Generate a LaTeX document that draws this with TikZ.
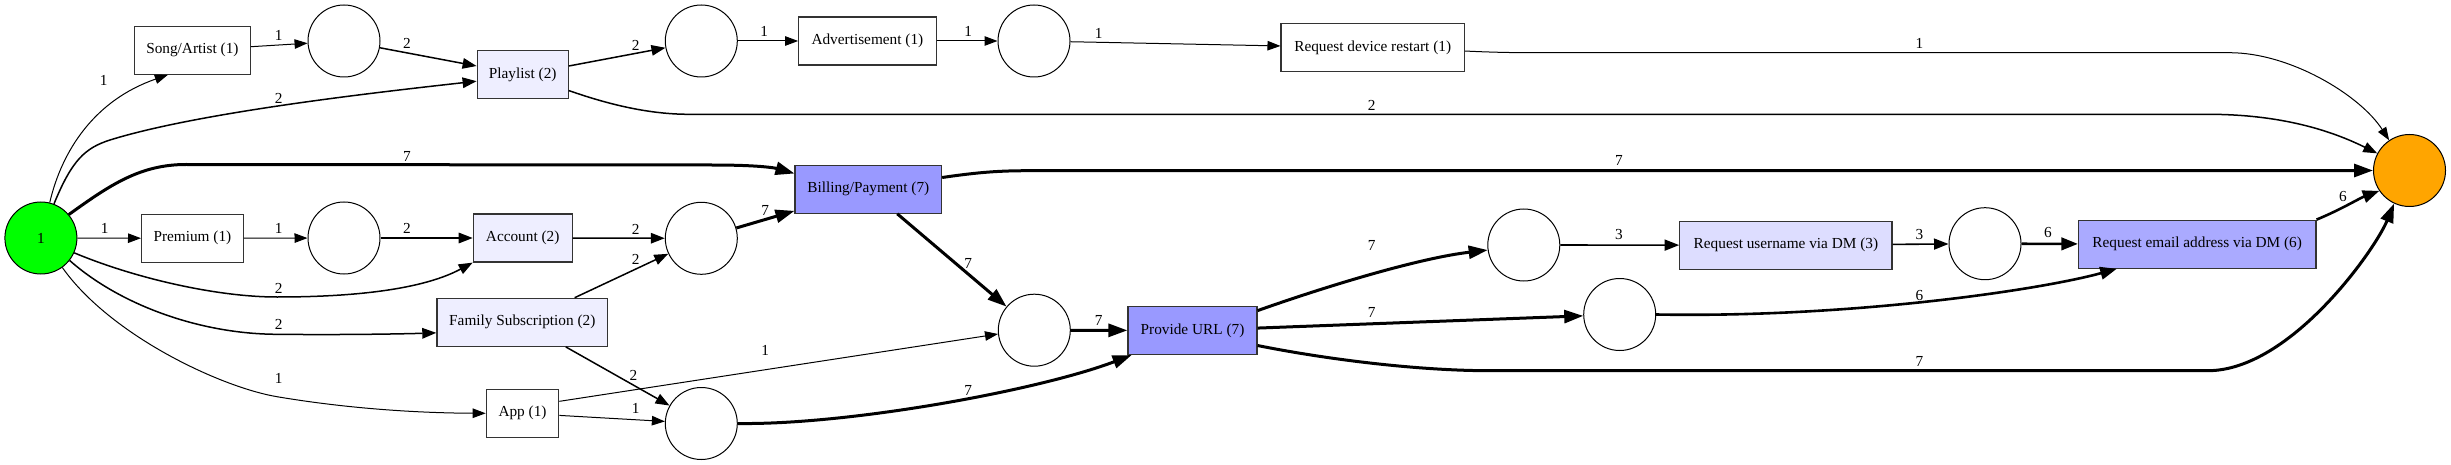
\documentclass[tikz,border=0pt]{standalone}
\usepackage{fontspec}
\setmainfont{Liberation Serif}
\usetikzlibrary{arrows.meta}
\definecolor{fA}{HTML}{EEEEFF}
\definecolor{fB}{HTML}{DDDDFF}
\definecolor{fC}{HTML}{AAAAFF}
\definecolor{fD}{HTML}{9999FF}
\definecolor{srcgreen}{HTML}{00FF00}
\definecolor{sinkorange}{HTML}{FFA500}
\definecolor{bord}{HTML}{333333}
\begin{document}
\begin{tikzpicture}[x=1pt,y=-1pt,
  every node/.style={font=\fontsize{15.3pt}{17pt}\selectfont},
  place/.style={circle,draw=black,line width=1pt,minimum size=72pt,inner sep=0pt},
  trans/.style={rectangle,draw=bord,line width=1.2pt,minimum height=48pt,inner sep=0pt},
  lbl/.style={inner sep=0pt},
  wA/.style={line width=1pt,-{Triangle[length=13pt,width=9.5pt]}},
  wB/.style={line width=1.5pt,-{Triangle[length=14pt,width=10.5pt]}},
  wC/.style={line width=1.6pt,-{Triangle[length=14.5pt,width=11pt]}},
  wF/.style={line width=2.6pt,-{Triangle[length=16.5pt,width=12.5pt]}},
  wG/.style={line width=3pt,-{Triangle[length=19pt,width=13pt]}},
]
\useasboundingbox (0,0) rectangle (2451,465);

% places
\node[place,fill=srcgreen] (src) at (40.9,238) {1};
\node[place] (p1) at (344,41) {};
\node[place] (p2) at (344,238) {};
\node[place] (p3) at (701.3,41) {};
\node[place] (p4) at (1034,41) {};
\node[place] (p5) at (701.3,238.3) {};
\node[place] (p6) at (1034.3,330.2) {};
\node[place] (p7) at (701.3,423.5) {};
\node[place] (p8) at (1523.8,245) {};
\node[place] (p9) at (1619.7,314.5) {};
\node[place] (p10) at (1985,243.7) {};
\node[place,fill=sinkorange] (sink) at (2409.5,170.5) {};

% transitions
\node[trans,fill=white,minimum width=116pt] (song) at (192.4,50.3) {Song/Artist (1)};
\node[trans,fill=white,minimum width=101.6pt] (premium) at (192.4,238.3) {Premium (1)};
\node[trans,fill=fA,minimum width=91pt] (playlist) at (522.7,74.7) {Playlist (2)};
\node[trans,fill=fA,minimum width=98.8pt] (account) at (522.7,238) {Account (2)};
\node[trans,fill=fA,minimum width=170.8pt] (family) at (522.3,322.3) {Family Subscription (2)};
\node[trans,fill=white,minimum width=72.4pt] (app) at (522.5,413.3) {App (1)};
\node[trans,fill=white,minimum width=137.4pt] (adv) at (867.4,41) {Advertisement (1)};
\node[trans,fill=fD,minimum width=146.5pt] (billing) at (868.3,189.2) {Billing/Payment (7)};
\node[trans,fill=fD,minimum width=129pt] (url) at (1192.5,330.5) {Provide URL (7)};
\node[trans,fill=white,minimum width=183.3pt] (restart) at (1372.7,47.8) {Request device restart (1)};
\node[trans,fill=fB,minimum width=212.3pt] (username) at (1785.9,245.2) {Request username via DM (3)};
\node[trans,fill=fC,minimum width=237.5pt] (email) at (2197.2,244.2) {Request email address via DM (6)};

% edges
\draw[wA] (src.76) .. controls (62,150) and (95,100) .. (song.225);
\draw[wA] (song) -- (p1);
\draw[wB] (p1) -- (playlist);
\draw[wB] (src.69) .. controls (72,160) and (85,148) .. (110,140) .. controls (200,112) and (380,92) .. (playlist.188);
\draw[wG] (src.40) .. controls (110,185) and (140,164.5) .. (186,164.5) -- (711.6,165) .. controls (760,165) and (775,168) .. (billing.168);
\draw[wA] (src) -- (premium);
\draw[wA] (premium) -- (p2);
\draw[wB] (p2) -- (account);
\draw[wB] (src.-24) .. controls (135,278.3) and (217,297) .. (277,297) .. controls (340,297) and (418,292) .. (account.south west);
\draw[wB] (src.-38) .. controls (120,305) and (200,334) .. (277,334.3) .. controls (340,335) and (400,334) .. (family.187);
\draw[wA] (src.-54) .. controls (110,335) and (220,387) .. (277,396.7) .. controls (350,409) and (420,413) .. (app.west);
\draw[wB] (account) -- (p5);
\draw[wB] (family) -- (p5);
\draw[wB] (family) -- (p7);
\draw[wA] (app.18) -- (p6.186);
\draw[wA] (app) -- (p7);
\draw[wB] (playlist) -- (p3);
\draw[wA] (p3) -- (adv);
\draw[wA] (adv) -- (p4);
\draw[wA] (p4) -- (restart);
\draw[wB] (playlist.-19) .. controls (610,105) and (650,114.3) .. (689,114.3) -- (2207.8,114.3) .. controls (2290,114.3) and (2340,135) .. (sink.152);
\draw[wA] (restart.-2) .. controls (1500,52.7) and (1520,52.7) .. (1541,52.7) -- (2229.6,52.7) .. controls (2290,52.7) and (2360,95) .. (sink.124);
\draw[wG] (billing.9) .. controls (980,172) and (1000,170.7) .. (1030,170.7) -- (sink.west);
\draw[wG] (p5) -- (billing);
\draw[wG] (billing) -- (p6);
\draw[wG] (p6) -- (url);
\draw[wG] (p7.east) .. controls (850,425) and (1040,390) .. (url.202);
\draw[wG] (url.17) .. controls (1330,285) and (1420,258) .. (p8.188);
\draw[wC] (p8) -- (username);
\draw[wG] (url) -- (p9);
\draw[wG] (url.-13) .. controls (1330,360) and (1420,370.7) .. (1489.6,370.7) -- (2207.8,370.7) .. controls (2290,370.7) and (2375,250) .. (sink.245);
\draw[wC] (username) -- (p10);
\draw[wF] (p10) -- (email);
\draw[wF] (p9.east) .. controls (1850,318) and (2040,290) .. (email.197);
\draw[wF] (email.north east) .. controls (2340,210) and (2360,198) .. (sink.214);

% edge labels
\node[lbl] (l01) at (103.6,80) {1};
\node[lbl] (l02) at (278.8,35) {1};
\node[lbl] (l03) at (407,43.3) {2};
\node[lbl] (l04) at (278.8,98.3) {2};
\node[lbl] (l05) at (407,156) {7};
\node[lbl] (l06) at (104.8,228.3) {1};
\node[lbl] (l07) at (278.8,228.3) {1};
\node[lbl] (l08) at (407,228.3) {2};
\node[lbl] (l09) at (278.8,288.3) {2};
\node[lbl] (l10) at (278.8,324) {2};
\node[lbl] (l11) at (278.8,378.3) {1};
\node[lbl] (l12) at (635.7,229.3) {2};
\node[lbl] (l13) at (635.7,259.3) {2};
\node[lbl] (l14) at (633.5,375) {2};
\node[lbl] (l15) at (765.2,350) {1};
\node[lbl] (l16) at (635.7,408.3) {1};
\node[lbl] (l17) at (635.7,45) {2};
\node[lbl] (l18) at (764.3,31.7) {1};
\node[lbl] (l19) at (968.3,31.7) {1};
\node[lbl] (l20) at (1098.6,33.3) {1};
\node[lbl] (l21) at (1371.7,105) {2};
\node[lbl] (l22) at (1618.9,160) {7};
\node[lbl] (l23) at (1919.3,43.3) {1};
\node[lbl] (l24) at (765.2,210) {7};
\node[lbl] (l25) at (968.3,263.3) {7};
\node[lbl] (l26) at (1098.6,320) {7};
\node[lbl] (l27) at (968.3,390) {7};
\node[lbl] (l28) at (1371.7,245.7) {7};
\node[lbl] (l29) at (1618.9,235) {3};
\node[lbl] (l30) at (1371.7,312.3) {7};
\node[lbl] (l31) at (1919.3,361) {7};
\node[lbl] (l32) at (1919.3,235) {3};
\node[lbl] (l33) at (2048,233) {6};
\node[lbl] (l34) at (1919.3,296) {6};
\node[lbl] (l35) at (2343,197) {6};
\end{tikzpicture}
\end{document}
